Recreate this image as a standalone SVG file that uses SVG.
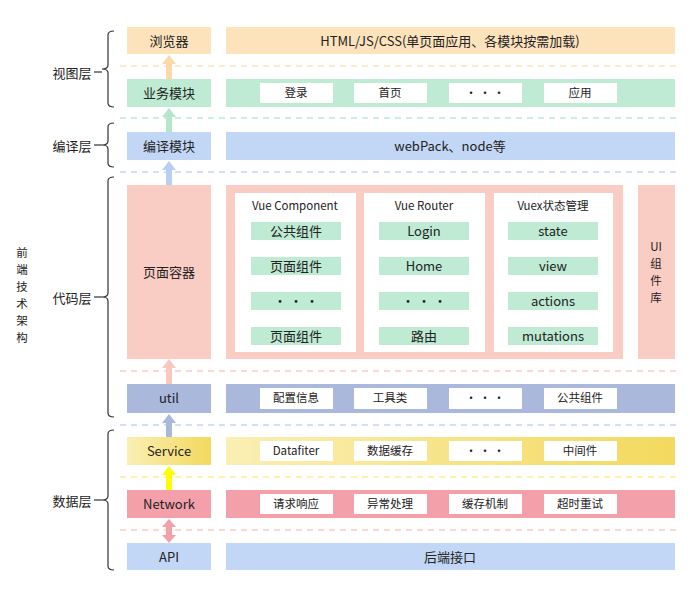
<svg xmlns="http://www.w3.org/2000/svg" width="692" height="615" viewBox="0 0 692 615">
<defs>
<style>
text{font-family:"Noto Sans CJK SC","Noto Sans",sans-serif;fill:#222;text-anchor:middle;dominant-baseline:central}
.l{font-size:13px}.s{font-size:11.5px}.h{font-size:13px}.v{font-size:11.5px}
.w{fill:#fff}.g{fill:#bfead4}
.d{fill:none;stroke-width:1.5;stroke-dasharray:6 5}
.br{fill:none;stroke:#333;stroke-width:1.2}
</style>
<linearGradient id="sg" x1="0" x2="1"><stop offset="0" stop-color="#faefb4"/><stop offset="1" stop-color="#f3d95e"/></linearGradient>
</defs>
<rect width="692" height="615" fill="#fff"/>
<g id="dashes">
<line class="d" x1="120" y1="66" x2="680" y2="66" stroke="#fde3bc"/>
<line class="d" x1="120" y1="118" x2="680" y2="118" stroke="#bfead4"/>
<line class="d" x1="120" y1="172" x2="680" y2="172" stroke="#c2d6f5"/>
<line class="d" x1="120" y1="371" x2="680" y2="371" stroke="#f9cdc4"/>
<line class="d" x1="120" y1="425" x2="680" y2="425" stroke="#c2d6f5"/>
<line class="d" x1="120" y1="477" x2="680" y2="477" stroke="#faef90"/>
<line class="d" x1="120" y1="530" x2="680" y2="530" stroke="#f9cdc4"/>
</g>
<g id="connectors">
<path d="M169 55 l-7 9 h4 v15 h6 v-15 h4 z" fill="#fdd9aa"/>
<path d="M169 108 l-7 9 h4 v15 h6 v-15 h4 z" fill="#b3e6cb"/>
<path d="M169 161 l-7 9 h4 v15 h6 v-15 h4 z" fill="#b8cff2"/>
<path d="M169 359 l-7 9 h4 v16 h6 v-16 h4 z" fill="#f9c8bd"/>
<path d="M169 414 l-7 9 h4 v14 h6 v-14 h4 z" fill="#aab8dc"/>
<path d="M169 466 l-7 9 h4 v15 h6 v-15 h4 z" fill="#ffff00"/>
<path d="M169 519 l-7 8 h4 v8 h-4 l7 8 l7 -8 h-4 v-8 h4 z" fill="#f4a0ab"/>
</g>
<g id="braces">
<path class="br" d="M114 31 q-6 0 -6 4 v30 q0 4 -6 4 q6 0 6 4 v30 q0 4 6 4"/><line class="br" x1="94" y1="72" x2="102" y2="72"/>
<path class="br" d="M114 123 q-6 0 -6 4 v14 q0 4 -6 4 q6 0 6 4 v14 q0 4 6 4"/><line class="br" x1="94" y1="145" x2="102" y2="145"/>
<path class="br" d="M114 177 q-6 0 -6 4 v112 q0 4 -6 4 q6 0 6 4 v112 q0 4 6 4"/><line class="br" x1="94" y1="297" x2="102" y2="297"/>
<path class="br" d="M114 430 q-6 0 -6 4 v62 q0 4 -6 4 q6 0 6 4 v62 q0 4 6 4"/><line class="br" x1="94" y1="500" x2="102" y2="500"/>
</g>
<g id="labels">
<text class="l" x="72" y="72">视图层</text>
<text class="l" x="72" y="145">编译层</text>
<text class="l" x="72" y="297">代码层</text>
<text class="l" x="72" y="500">数据层</text>
<text class="v" x="22" y="252">前</text><text class="v" x="22" y="269">端</text><text class="v" x="22" y="286">技</text><text class="v" x="22" y="303">术</text><text class="v" x="22" y="320">架</text><text class="v" x="22" y="337">构</text>
</g>
<g id="row-browser">
<rect x="127" y="27" width="84" height="27" fill="#fde3bc"/><text class="h" x="169" y="40">浏览器</text>
<rect x="226" y="27" width="449" height="27" fill="#fde3bc"/><text class="h" x="450" y="40">HTML/JS/CSS(单页面应用、各模块按需加载)</text>
</g>
<g id="row-biz">
<rect x="127" y="79" width="84" height="28" fill="#bfead4"/><text class="h" x="169" y="92">业务模块</text>
<rect x="226" y="79" width="449" height="28" fill="#bfead4"/>
<rect class="w" x="260" y="83" width="73" height="20"/><text class="s" x="296" y="92">登录</text>
<rect class="w" x="354" y="83" width="73" height="20"/><text class="s" x="390" y="92">首页</text>
<rect class="w" x="449" y="83" width="73" height="20"/><text class="s" x="485" y="92">·  ·  ·</text>
<rect class="w" x="544" y="83" width="73" height="20"/><text class="s" x="580" y="92">应用</text>
</g>
<g id="row-compile">
<rect x="127" y="132" width="84" height="28" fill="#c2d6f5"/><text class="h" x="169" y="145">编译模块</text>
<rect x="226" y="132" width="449" height="28" fill="#c2d6f5"/><text class="h" x="450" y="145">webPack、node等</text>
</g>
<g id="row-code">
<rect x="127" y="185" width="84" height="174" fill="#f9cdc4"/><text class="h" x="169" y="271">页面容器</text>
<rect x="226" y="185" width="397" height="174" fill="#f9cdc4"/>
<rect x="638" y="185" width="37" height="174" fill="#f9cdc4"/>
<text class="v" x="656" y="246">UI</text><text class="v" x="656" y="263">组</text><text class="v" x="656" y="280">件</text><text class="v" x="656" y="297">库</text>
<rect class="w" x="235" y="193" width="121" height="159"/><rect class="w" x="364" y="193" width="121" height="159"/><rect class="w" x="494" y="193" width="119" height="159"/>
<text class="s" x="295" y="205">Vue Component</text><text class="s" x="424" y="205">Vue Router</text><text class="s" x="553" y="205">Vuex状态管理</text>
<rect class="g" x="251" y="222" width="90" height="18"/><text class="h" x="296" y="230">公共组件</text>
<rect class="g" x="251" y="257" width="90" height="18"/><text class="h" x="296" y="265">页面组件</text>
<rect class="g" x="251" y="292" width="90" height="18"/><text class="h" x="296" y="300">·  ·  ·</text>
<rect class="g" x="251" y="327" width="90" height="18"/><text class="h" x="296" y="335">页面组件</text>
<rect class="g" x="379" y="222" width="90" height="18"/><text class="h" x="424" y="230">Login</text>
<rect class="g" x="379" y="257" width="90" height="18"/><text class="h" x="424" y="265">Home</text>
<rect class="g" x="379" y="292" width="90" height="18"/><text class="h" x="424" y="300">·  ·  ·</text>
<rect class="g" x="379" y="327" width="90" height="18"/><text class="h" x="424" y="335">路由</text>
<rect class="g" x="508" y="222" width="90" height="18"/><text class="h" x="553" y="230">state</text>
<rect class="g" x="508" y="257" width="90" height="18"/><text class="h" x="553" y="265">view</text>
<rect class="g" x="508" y="292" width="90" height="18"/><text class="h" x="553" y="300">actions</text>
<rect class="g" x="508" y="327" width="90" height="18"/><text class="h" x="553" y="335">mutations</text>
</g>
<g id="row-util">
<rect x="127" y="384" width="84" height="29" fill="#aab8dc"/><text class="h" x="169" y="397">util</text>
<rect x="226" y="384" width="449" height="29" fill="#aab8dc"/>
<rect class="w" x="260" y="388" width="73" height="21"/><text class="s" x="296" y="397">配置信息</text>
<rect class="w" x="354" y="388" width="73" height="21"/><text class="s" x="390" y="397">工具类</text>
<rect class="w" x="449" y="388" width="73" height="21"/><text class="s" x="485" y="397">·  ·  ·</text>
<rect class="w" x="544" y="388" width="73" height="21"/><text class="s" x="580" y="397">公共组件</text>
</g>
<g id="row-service">
<rect x="127" y="437" width="84" height="28" fill="url(#sg)"/><text class="h" x="169" y="450">Service</text>
<rect x="226" y="437" width="449" height="28" fill="url(#sg)"/>
<rect class="w" x="260" y="441" width="73" height="20"/><text class="s" x="296" y="450">Datafiter</text>
<rect class="w" x="354" y="441" width="73" height="20"/><text class="s" x="390" y="450">数据缓存</text>
<rect class="w" x="449" y="441" width="73" height="20"/><text class="s" x="485" y="450">·  ·  ·</text>
<rect class="w" x="544" y="441" width="73" height="20"/><text class="s" x="580" y="450">中间件</text>
</g>
<g id="row-network">
<rect x="127" y="490" width="84" height="28" fill="#f4a0ab"/><text class="h" x="169" y="503">Network</text>
<rect x="226" y="490" width="449" height="28" fill="#f4a0ab"/>
<rect class="w" x="260" y="494" width="73" height="20"/><text class="s" x="296" y="503">请求响应</text>
<rect class="w" x="354" y="494" width="73" height="20"/><text class="s" x="390" y="503">异常处理</text>
<rect class="w" x="449" y="494" width="73" height="20"/><text class="s" x="485" y="503">缓存机制</text>
<rect class="w" x="544" y="494" width="73" height="20"/><text class="s" x="580" y="503">超时重试</text>
</g>
<g id="row-api">
<rect x="127" y="543" width="84" height="27" fill="#c2d6f5"/><text class="h" x="169" y="556">API</text>
<rect x="226" y="543" width="449" height="27" fill="#c2d6f5"/><text class="h" x="450" y="556">后端接口</text>
</g>
</svg>
